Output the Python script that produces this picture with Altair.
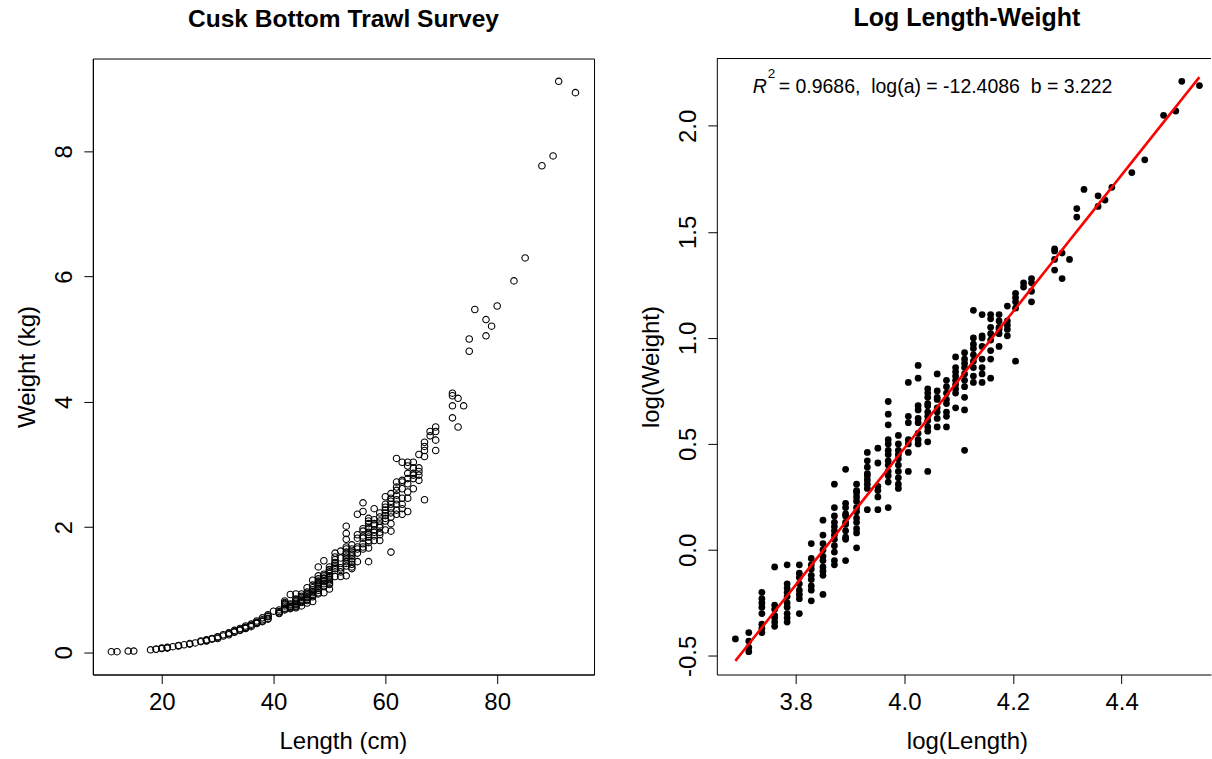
import altair as alt
import numpy as np
import pandas as pd

FONT = "Liberation Sans"

# Fish under 40 cm: length (cm) and weight (kg)
small_len = [11, 12, 14, 15, 18, 19, 19, 20, 20, 21, 21, 21, 22, 23, 23, 24, 25, 25,
             26, 27, 27, 28, 28, 28, 29, 29, 30, 30, 30, 31, 31, 32, 32, 32, 33, 33,
             33, 34, 34, 34, 35, 35, 35, 35, 36, 36, 36, 37, 37, 37, 37, 38, 38, 38,
             38, 39, 39, 39, 39, 39]
small_wt = [0.01, 0.01, 0.02, 0.02, 0.04, 0.05, 0.05, 0.06, 0.07, 0.07, 0.08, 0.07,
            0.09, 0.11, 0.10, 0.12, 0.13, 0.14, 0.15, 0.17, 0.18, 0.19, 0.18, 0.20,
            0.21, 0.22, 0.24, 0.22, 0.25, 0.26, 0.28, 0.30, 0.28, 0.31, 0.33, 0.35,
            0.32, 0.36, 0.38, 0.35, 0.40, 0.38, 0.42, 0.39, 0.45, 0.43, 0.41, 0.48,
            0.46, 0.50, 0.47, 0.52, 0.50, 0.55, 0.49, 0.57, 0.54, 0.60, 0.53, 0.58]

# Fish of 40 cm and over (the regression sample): length (cm) and ln(weight in kg)
big_len = (
    [40] + [41] * 4 + [42] * 8 + [43] * 7 + [44] * 10 + [45] * 8 + [46] * 9
    + [47] * 10 + [48] * 12 + [49] * 11 + [50] * 12 + [51] * 9 + [52] * 6
    + [53] * 13 + [54] * 10 + [55] * 7 + [56] * 9 + [57] * 12 + [58] * 8
    + [59] * 8 + [60] * 9 + [61] * 10 + [62] * 9 + [63] * 8 + [64] * 8
    + [65] * 6 + [66] * 5 + [67] * 5 + [68] * 2 + [69] * 4 + [72] * 4
    + [73] * 2 + [74] + [75] * 2 + [76] + [78] * 2 + [79] + [80] + [83]
    + [85] + [88] + [90] + [91] + [94]
)
big_logwt = [
    -0.42,
    -0.39, -0.43, -0.46, -0.48,
    -0.20, -0.23, -0.25, -0.27, -0.30, -0.35, -0.37, -0.39,
    -0.08, -0.26, -0.28, -0.31, -0.32, -0.34, -0.36,
    -0.07, -0.16, -0.18, -0.20, -0.22, -0.25, -0.27, -0.30, -0.32, -0.34,
    -0.07, -0.11, -0.13, -0.16, -0.19, -0.21, -0.23, -0.30,
    0.03, -0.04, -0.07, -0.09, -0.12, -0.14, -0.17, -0.19, -0.24,
    0.14, 0.07, 0.03, 0.00, -0.03, -0.05, -0.08, -0.10, -0.12, -0.21,
    0.31, 0.20, 0.16, 0.13, 0.11, 0.09, 0.07, 0.05, 0.02, -0.01, -0.05, -0.07,
    0.38, 0.22, 0.20, 0.17, 0.16, 0.13, 0.12, 0.09, 0.06, 0.05, -0.05,
    0.31, 0.28, 0.27, 0.25, 0.23, 0.20, 0.18, 0.15, 0.13, 0.10, 0.08, 0.01,
    0.46, 0.42, 0.39, 0.36, 0.35, 0.33, 0.31, 0.29, 0.19,
    0.48, 0.41, 0.30, 0.28, 0.25, 0.19,
    0.70, 0.64, 0.59, 0.52, 0.50, 0.47, 0.45, 0.42, 0.40, 0.37, 0.35, 0.32, 0.20,
    0.54, 0.50, 0.47, 0.45, 0.43, 0.40, 0.37, 0.34, 0.31, 0.29,
    0.79, 0.63, 0.60, 0.52, 0.50, 0.46, 0.37,
    0.87, 0.81, 0.68, 0.66, 0.62, 0.60, 0.55, 0.52, 0.50,
    0.76, 0.74, 0.72, 0.69, 0.68, 0.65, 0.63, 0.61, 0.58, 0.56, 0.51, 0.37,
    0.83, 0.75, 0.72, 0.71, 0.67, 0.65, 0.62, 0.58,
    0.80, 0.77, 0.74, 0.71, 0.69, 0.65, 0.63, 0.58,
    0.91, 0.86, 0.84, 0.82, 0.80, 0.78, 0.76, 0.74, 0.67,
    0.93, 0.90, 0.88, 0.86, 0.83, 0.80, 0.77, 0.72, 0.66, 0.47,
    1.13, 1.00, 0.97, 0.95, 0.92, 0.89, 0.86, 0.82, 0.79,
    1.11, 1.01, 1.00, 0.96, 0.90, 0.86, 0.83, 0.79,
    1.11, 1.09, 1.05, 1.02, 0.99, 0.94, 0.90, 0.81,
    1.11, 1.08, 1.05, 1.04, 1.02, 0.96,
    1.15, 1.08, 1.06, 1.04, 1.01,
    1.21, 1.19, 1.17, 1.14, 0.89,
    1.26, 1.24,
    1.28, 1.26, 1.22, 1.17,
    1.42, 1.41, 1.37, 1.32,
    1.40, 1.28,
    1.37,
    1.61, 1.57,
    1.70,
    1.67, 1.62,
    1.65,
    1.71,
    1.78,
    1.84,
    2.05,
    2.07,
    2.21,
    2.19,
]

# Fitted log-log regression: log(W) = log(a) + b * log(L)
R2 = 0.9686
LOG_A = -12.4086
B = 3.222

x_ticks_left = [20, 40, 60, 80]
y_ticks_left = [0, 2, 4, 6, 8]
x_ticks_right = [3.8, 4.0, 4.2, 4.4]
y_ticks_right = [-0.5, 0.0, 0.5, 1.0, 1.5, 2.0]

PLOT_H = 617
LEFT_W = 502
RIGHT_FULL_W = 502
RIGHT_W = 495


def r_range(vals):
    """Axis range padded by 4% on each side, like R's default xaxs/yaxs='r'."""
    lo, hi = float(min(vals)), float(max(vals))
    pad = 0.04 * (hi - lo)
    return [lo - pad, hi + pad]


small = pd.DataFrame({"length": small_len, "weight": small_wt})
big = pd.DataFrame({"length": big_len, "logw": big_logwt})
big["weight"] = np.exp(big["logw"])
big["loglen"] = np.log(big["length"])
big["fit"] = LOG_A + B * big["loglen"]
allfish = pd.concat([small, big[["length", "weight"]]], ignore_index=True)

xdom_l = r_range(allfish["length"])
ydom_l = r_range(allfish["weight"])
xfull_r = r_range(big["loglen"])
xdom_r = [xfull_r[0], xfull_r[0] + (xfull_r[1] - xfull_r[0]) * RIGHT_W / RIGHT_FULL_W]
ydom_r = r_range(big["logw"])

HYPHEN = "replace(datum.label, '\u2212', '-')"


def bottom_axis(title, values, fmt):
    return alt.Axis(
        values=values, format=fmt, labelExpr=HYPHEN, title=title, grid=False,
        domain=True, domainColor="black", domainWidth=1,
        ticks=True, tickColor="black", tickSize=9, tickWidth=1,
        labelFont=FONT, labelFontSize=24, labelColor="black", labelPadding=7,
        labelAngle=0, labelAlign="center", labelBaseline="top",
        labelFlush=False, labelOverlap=False,
        titleFont=FONT, titleFontSize=24, titleFontWeight="normal", titleColor="black",
        titleX=250.5, titleY=67, titleAlign="center", titleBaseline="middle",
    )


def left_axis(title, values, fmt):
    return alt.Axis(
        values=values, format=fmt, labelExpr=HYPHEN, title=title, grid=False,
        domain=True, domainColor="black", domainWidth=1,
        ticks=True, tickColor="black", tickSize=9, tickWidth=1,
        labelFont=FONT, labelFontSize=24, labelColor="black", labelPadding=7,
        labelAngle=-90, labelAlign="center", labelBaseline="bottom",
        labelFlush=False, labelOverlap=False,
        titleFont=FONT, titleFontSize=24, titleFontWeight="normal", titleColor="black",
        titleAngle=270, titleX=-65, titleY=PLOT_H / 2,
        titleAlign="center", titleBaseline="middle",
    )


def panel_title(text, size, dx=0):
    return alt.TitleParams(
        text=text, font=FONT, fontSize=size, fontWeight="bold", color="black",
        anchor="middle", baseline="alphabetic", offset=7, dx=dx,
    )


# Left panel: raw length-weight scatter with open circles
left = (
    alt.Chart(allfish)
    .mark_point(shape="circle", filled=False, color="black", size=42,
                strokeWidth=1.1, opacity=1)
    .encode(
        x=alt.X("length:Q", scale=alt.Scale(domain=xdom_l, nice=False, zero=False),
                axis=bottom_axis("Length (cm)", x_ticks_left, "d")),
        y=alt.Y("weight:Q", scale=alt.Scale(domain=ydom_l, nice=False, zero=False),
                axis=left_axis("Weight (kg)", y_ticks_left, "d")),
    )
    .properties(width=LEFT_W, height=PLOT_H,
                title=panel_title("Cusk Bottom Trawl Survey", 24.6),
                view=alt.ViewBackground(stroke="black", strokeWidth=1))
)

# Right panel: log-log scatter, fitted line and fit statistics
xs = alt.Scale(domain=xdom_r, nice=False, zero=False)
ys = alt.Scale(domain=ydom_r, nice=False, zero=False)

pts = (
    alt.Chart(big)
    .mark_circle(size=46, color="black", opacity=1)
    .encode(
        x=alt.X("loglen:Q", scale=xs, axis=bottom_axis("log(Length)", x_ticks_right, ".1f")),
        y=alt.Y("logw:Q", scale=ys, axis=left_axis("log(Weight)", y_ticks_right, ".1f")),
    )
)

fit_line = (
    alt.Chart(big)
    .mark_line(color="#ff0000", strokeWidth=2.6, clip=True)
    .encode(x=alt.X("loglen:Q", scale=xs), y=alt.Y("fit:Q", scale=ys))
)

frame_top = (
    alt.Chart(pd.DataFrame({"edge": ["top"]}))
    .mark_rule(color="black", strokeWidth=1)
    .encode(x=alt.value(0), x2=alt.value(RIGHT_W), y=alt.value(0))
)

label_df = pd.DataFrame({"k": [0]})
stat_r = (
    alt.Chart(label_df)
    .mark_text(font=FONT, fontSize=19.5, fontStyle="italic", align="left",
               baseline="alphabetic", color="black")
    .encode(x=alt.value(36), y=alt.value(34.5), text=alt.value("R"))
)
stat_sq = (
    alt.Chart(label_df)
    .mark_text(font=FONT, fontSize=13.5, align="left", baseline="alphabetic", color="black")
    .encode(x=alt.value(51), y=alt.value(19.5), text=alt.value("2"))
)
stat_rest = (
    alt.Chart(label_df)
    .mark_text(font=FONT, fontSize=19.5, align="left", baseline="alphabetic", color="black")
    .encode(
        x=alt.value(62), y=alt.value(34.5),
        text=alt.value(f"= {R2},\u00a0 log(a) = {LOG_A}\u00a0 b = {B}"),
    )
)

right = (
    alt.layer(pts, fit_line, frame_top, stat_r, stat_sq, stat_rest)
    .properties(width=RIGHT_W, height=PLOT_H,
                title=panel_title("Log Length-Weight", 25, dx=3),
                view=alt.ViewBackground(stroke="transparent"))
)

chart = (
    alt.hconcat(left, right, spacing=44)
    .properties(padding={"left": 15, "top": 5, "right": 0, "bottom": 0},
                background="white")
    .configure(font=FONT)
)

chart.save("out.html", embed_options={"renderer": "svg", "actions": False})
